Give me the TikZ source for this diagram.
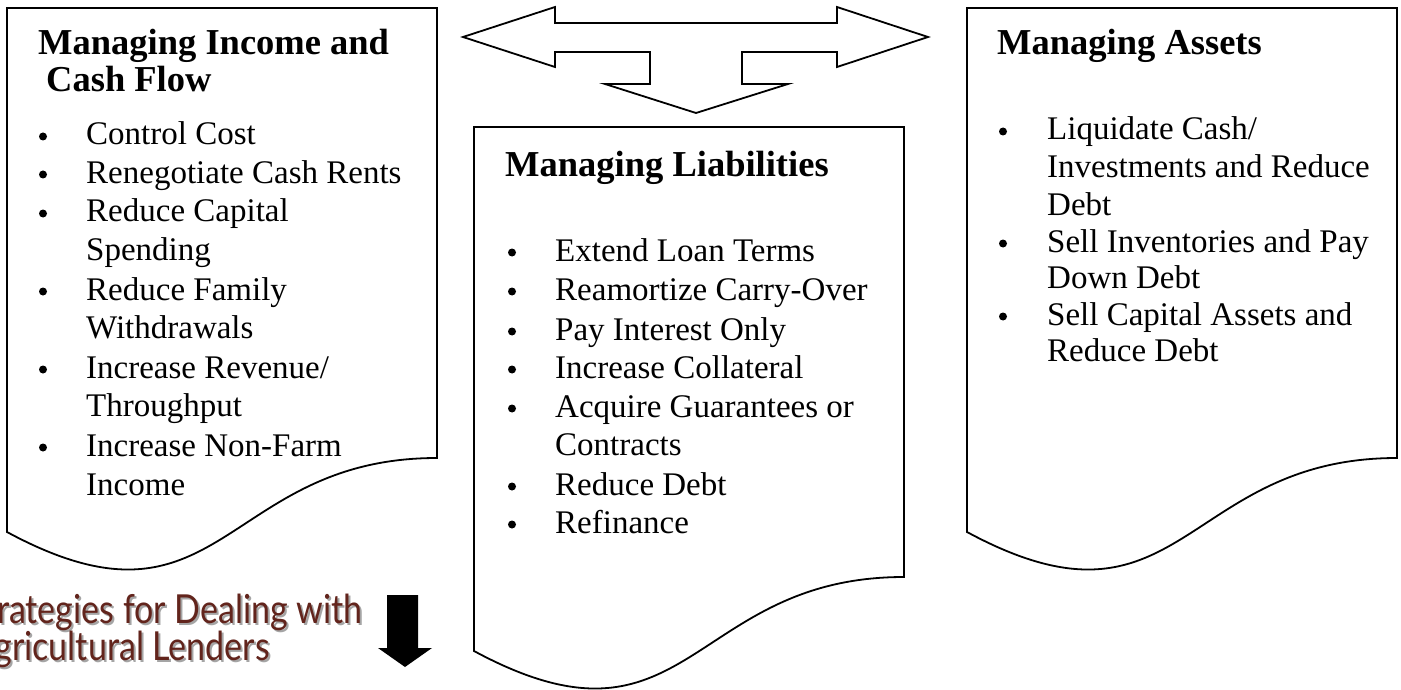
\documentclass[tikz,border=0pt]{standalone}
\usepackage{fontspec}
\setmainfont{Liberation Serif}
\newfontfamily\capfont[FakeStretch=0.85]{Lato}
\definecolor{capmaroon}{RGB}{98,36,28}
\definecolor{capshadow}{RGB}{165,165,165}
\newcommand\docshape[3]{% name, x0, y0
  \draw[boxline] (#2,#3) coordinate (#1) -- (#2+430,#3) -- (#2+430,#3+450)
    .. controls (#2+215,#3+450) and (#2+215,#3+640) .. (#2,#3+524) -- cycle;}
\newcommand\bitem[5]{% name, bullet x, text x, baseline y, text
  \node[bul] (#1b) at (#2,#4-8.5) {};
  \node[txt] (#1) at (#3,#4) {#5};}
\newcommand\contline[4]{% name, text x, baseline y, text
  \node[txt] (#1) at (#2,#3) {#4};}
\begin{document}
\begin{tikzpicture}[x=1pt,y=-1pt,
  boxline/.style={draw=black, line width=1.8pt, line join=miter},
  hd/.style={anchor=base west, inner sep=0pt, font=\fontsize{36.5}{40}\selectfont\bfseries},
  txt/.style={anchor=base west, inner sep=0pt, font=\fontsize{33}{39}\selectfont},
  bul/.style={circle, fill=black, inner sep=0pt, minimum size=8pt},
  captxt/.style={inner sep=0pt, font=\capfont\fontsize{40}{42}\selectfont}]
\useasboundingbox (0,0) rectangle (1401,690);

% top double arrow with down branch
\draw[boxline] (463,37) -- (555,7) -- (555,23) -- (837,23) -- (837,7) -- (928,37)
  -- (837,67) -- (837,52) -- (742,52) -- (742,84) -- (788,84) -- (696,113)
  -- (605,84) -- (650,84) -- (650,52) -- (555,52) -- (555,67) -- cycle;

% boxes
\docshape{boxL}{7}{8}
\docshape{boxM}{474}{127}
\docshape{boxR}{967}{8}

% left box
\node[hd] (hL1) at (38,55) {Managing Income and};
\node[hd] (hL2) at (46,92) {Cash Flow};
\bitem{l1}{43}{86}{145}{Control Cost}
\bitem{l2}{43}{86}{183}{Renegotiate Cash Rents}
\bitem{l3}{43}{86}{222}{Reduce Capital}
\contline{l3a}{86}{260}{Spending}
\bitem{l4}{43}{86}{300}{Reduce Family}
\contline{l4a}{86}{338}{Withdrawals}
\bitem{l5}{43}{86}{378}{Increase Revenue/}
\contline{l5a}{86}{416}{Throughput}
\bitem{l6}{43}{86}{456}{Increase Non-Farm}
\contline{l6a}{86}{495}{Income}

% middle box
\node[hd] (hM) at (505,177) {Managing Liabilities};
\bitem{m1}{512}{555}{261}{Extend Loan Terms}
\bitem{m2}{512}{555}{300}{Reamortize Carry-Over}
\bitem{m3}{512}{555}{340}{Pay Interest Only}
\bitem{m4}{512}{555}{378}{Increase Collateral}
\bitem{m5}{512}{555}{417}{Acquire Guarantees or}
\contline{m5a}{555}{455}{Contracts}
\bitem{m6}{512}{555}{495}{Reduce Debt}
\bitem{m7}{512}{555}{533}{Refinance}

% right box
\node[hd] (hR) at (997,55) {Managing Assets};
\bitem{r1}{1003}{1047}{140}{Liquidate Cash/}
\contline{r1a}{1047}{178}{Investments and Reduce}
\contline{r1b}{1047}{215}{Debt}
\bitem{r2}{1003}{1047}{252}{Sell Inventories and Pay}
\contline{r2a}{1047}{288}{Down Debt}
\bitem{r3}{1003}{1047}{325}{Sell Capital Assets and}
\contline{r3a}{1047}{361}{Reduce Debt}

% caption (cut at left edge, as in the reference)
\node[captxt, anchor=base east, text=capshadow] (c1s) at (365,625) {Strategies for Dealing with};
\node[captxt, anchor=base east, text=capshadow] (c2s) at (272,662) {Agricultural Lenders};
\node[captxt, anchor=base east, text=capmaroon] (c1) at (363,623) {Strategies for Dealing with};
\node[captxt, anchor=base east, text=capmaroon] (c2) at (270,660) {Agricultural Lenders};

% black down arrow
\fill[black] (387,595) -- (418,595) -- (418,648) -- (432,648) -- (405,667)
  -- (378,648) -- (387,648) -- cycle;
\end{tikzpicture}
\end{document}
